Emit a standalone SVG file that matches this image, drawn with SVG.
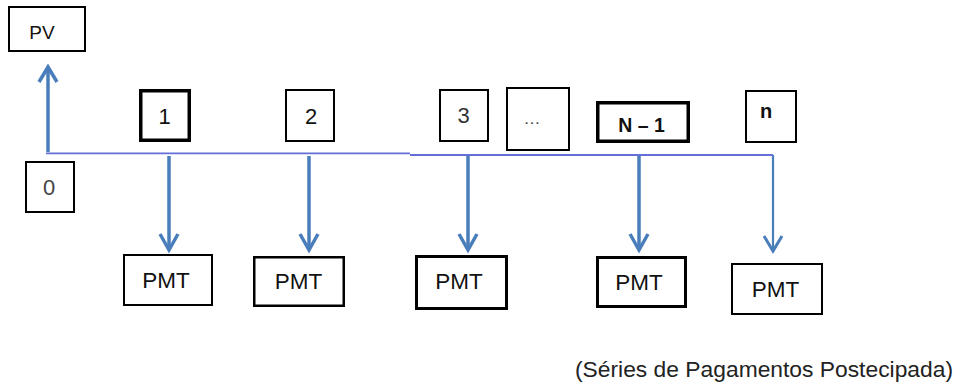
<svg xmlns="http://www.w3.org/2000/svg" width="956" height="387" viewBox="0 0 956 387">
  <style>
    .box { fill: #ffffff; stroke: #000000; stroke-width: 2; }
    .lbl { font-family: "Liberation Sans", Arial, sans-serif; fill: #111111; text-anchor: middle; }
    .pmt { font-size: 22.5px; }
    .pay { stroke: #4A7EBB; stroke-width: 3.5; fill: none; }
    .axis { stroke: #6470D8; stroke-width: 1.8; fill: none; }
    .head { stroke: #4A7EBB; stroke-width: 3.5; fill: none; stroke-linejoin: miter; }
  </style>

  <!-- time axis and cash-flow arrows -->
  <g id="connectors">
    <path class="axis" d="M46 153.3 H410 M410 155 H773"/>
    <!-- PV inflow at time 0 -->
    <line class="pay" x1="48" y1="152" x2="48" y2="67"/>
    <polyline class="head" points="39,82 48,67 57,82"/>
    <!-- PMT outflows -->
    <line class="pay" x1="169" y1="156" x2="169" y2="250"/>
    <polyline class="head" points="160,234 169,250 178,234"/>
    <line class="pay" x1="309" y1="156" x2="309" y2="250"/>
    <polyline class="head" points="300,234 309,250 318,234"/>
    <line class="pay" x1="468" y1="156" x2="468" y2="250"/>
    <polyline class="head" points="459,234 468,250 477,234"/>
    <line class="pay" x1="639" y1="156" x2="639" y2="250"/>
    <polyline class="head" points="630,234 639,250 648,234"/>
    <line x1="773" y1="155" x2="773" y2="251" stroke="#4A7EBB" stroke-width="2.2"/>
    <polyline points="764,236 773,251 782,236" fill="none" stroke="#4A7EBB" stroke-width="3"/>
  </g>

  <g id="pv">
    <rect class="box" x="9" y="7" width="76" height="44"/>
    <text class="lbl" x="42" y="39" font-size="19">PV</text>
  </g>

  <g id="t0">
    <rect class="box" x="26" y="162" width="48" height="50"/>
    <text class="lbl" x="49" y="195" font-size="22" style="fill:#444444">0</text>
  </g>

  <g id="t1">
    <rect class="box" x="140.75" y="90.75" width="48.5" height="49.5" style="stroke-width:3.5"/>
    <text class="lbl" x="164.5" y="124" font-size="22">1</text>
  </g>

  <g id="t2">
    <rect class="box" x="286" y="90" width="48" height="51"/>
    <text class="lbl" x="311" y="124" font-size="22">2</text>
  </g>

  <g id="t3">
    <rect class="box" x="440" y="90" width="48" height="51"/>
    <text class="lbl" x="463.5" y="123" font-size="22" style="fill:#333333">3</text>
  </g>

  <g id="ellipsis">
    <rect class="box" x="507" y="88" width="62" height="62"/>
    <text class="lbl" x="532" y="124" font-size="17" style="fill:#444444">…</text>
  </g>

  <g id="tn1">
    <rect class="box" x="597.75" y="102.75" width="90.5" height="38.5" style="stroke-width:3.5"/>
    <text class="lbl" x="641.5" y="132" font-size="19.5" font-weight="bold">N – 1</text>
  </g>

  <g id="tn">
    <rect class="box" x="746" y="91" width="50" height="51"/>
    <text class="lbl" x="766" y="117.5" font-size="20" font-weight="bold">n</text>
  </g>

  <g id="pmt1">
    <rect class="box" x="124" y="255" width="88" height="50"/>
    <text class="lbl pmt" x="166" y="288">PMT</text>
  </g>

  <g id="pmt2">
    <rect class="box" x="254.25" y="257.25" width="89.5" height="48.5" style="stroke-width:2.5"/>
    <text class="lbl pmt" x="298.5" y="289">PMT</text>
  </g>

  <g id="pmt3">
    <rect class="box" x="416.5" y="256.5" width="90" height="52" style="stroke-width:3"/>
    <text class="lbl pmt" x="459" y="289">PMT</text>
  </g>

  <g id="pmt4">
    <rect class="box" x="597.5" y="257.5" width="88" height="49" style="stroke-width:3"/>
    <text class="lbl pmt" x="639" y="290">PMT</text>
  </g>

  <g id="pmt5">
    <rect class="box" x="732" y="264" width="90" height="50"/>
    <text class="lbl pmt" x="775.5" y="297">PMT</text>
  </g>

  <g id="caption">
    <text x="575" y="377" font-family="'Liberation Sans', Arial, sans-serif" font-size="22" fill="#222222" textLength="378" lengthAdjust="spacingAndGlyphs">(Séries de Pagamentos Postecipada)</text>
  </g>
</svg>
